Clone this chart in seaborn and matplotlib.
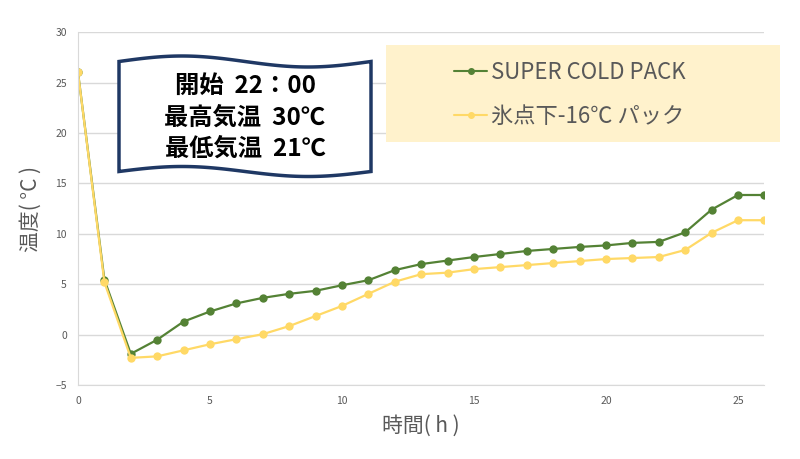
import numpy as np
import pandas as pd
import matplotlib.pyplot as plt
import matplotlib.patches as mpatches
import seaborn as sns

# data
hours = list(range(27))
super_cold = [26.0, 5.45, -1.9, -0.5, 1.3, 2.3, 3.1, 3.65, 4.05, 4.35, 4.9, 5.4, 6.4,
              7.0, 7.35, 7.7, 8.0, 8.3, 8.5, 8.7, 8.85, 9.1, 9.2, 10.15, 12.4, 13.85, 13.85]
minus16 = [26.0, 5.2, -2.3, -2.15, -1.55, -0.95, -0.45, 0.05, 0.85, 1.85, 2.85, 4.05, 5.25,
           6.0, 6.15, 6.5, 6.7, 6.9, 7.1, 7.3, 7.5, 7.6, 7.7, 8.4, 10.1, 11.35, 11.35]
series_names = ['SUPER COLD PACK', '氷点下-16℃ パック']
colors = ['#548235', '#FFD966']
info_lines = ['開始  22：00', '最高気温  30℃', '最低気温  21℃']

df = pd.DataFrame({'hour': hours * 2,
                   'temp': super_cold + minus16,
                   'pack': [series_names[0]] * len(hours) + [series_names[1]] * len(hours)})

sns.set_style('white')
plt.rcParams['font.family'] = ['Noto Sans CJK JP', 'DejaVu Sans']

fig = plt.figure(figsize=(8, 4.59), dpi=100)
ax = fig.add_axes([0.0975, 0.161, 0.858, 0.769])

sns.lineplot(data=df, x='hour', y='temp', hue='pack', palette=colors, marker='o',
             markersize=6, markeredgewidth=0, linewidth=1.6, ax=ax, legend=False)

ax.set_xlim(0, 26)
ax.set_ylim(-5, 30)
ax.set_xticks(range(0, 26, 5))
ax.set_yticks(range(-5, 31, 5))
ax.tick_params(length=0, labelsize=7.5, labelcolor='#595959', pad=8)
ax.grid(axis='y', color='#D9D9D9', linewidth=1)
for s in ['top', 'right']:
    ax.spines[s].set_visible(False)
for s in ['left', 'bottom']:
    ax.spines[s].set_color('#D9D9D9')
ax.set_xlabel('時間( h )', fontsize=15, color='#595959', labelpad=6)
ax.set_ylabel('温度( °C )', fontsize=15, color='#595959', labelpad=10)

# legend background
fig.patches.append(mpatches.Rectangle((386 / 800, 1 - 142 / 459), 394 / 800, 97 / 459,
                                      transform=fig.transFigure, facecolor='#FFF2CC',
                                      edgecolor='none', zorder=5))
handles = [plt.Line2D([], [], color=c, marker='o', markersize=4, linewidth=1.5) for c in colors]
leg = fig.legend(handles, series_names, loc='upper left',
                 bbox_to_anchor=(434 / 800, 1 - 41 / 459), frameon=False,
                 fontsize=16, handlelength=1.5, handletextpad=0.15, labelspacing=0.95,
                 labelcolor='#595959')
leg.set_zorder(6)

# wavy banner
t = np.linspace(0, 1, 100)
x0, x1 = 119, 371
xs = x0 + (x1 - x0) * t
top = 61.5 - 5.5 * np.sin(2 * np.pi * t)
bot = 171.5 - 5.0 * np.sin(2 * np.pi * t)
pts = np.concatenate([np.column_stack([xs, top]), np.column_stack([xs[::-1], bot[::-1]])])
pts[:, 0] /= 800
pts[:, 1] = 1 - pts[:, 1] / 459
fig.patches.append(mpatches.Polygon(pts, closed=True, transform=fig.transFigure,
                                    facecolor='white', edgecolor='#1F3864', linewidth=2.5,
                                    zorder=5))
for i, line in enumerate(info_lines):
    fig.text(245 / 800, 1 - (86 + 31.5 * i) / 459, line, ha='center', va='center',
             fontsize=17.5, fontweight='bold', color='black', zorder=6)

fig.savefig('out.png', dpi=100, facecolor='white')
